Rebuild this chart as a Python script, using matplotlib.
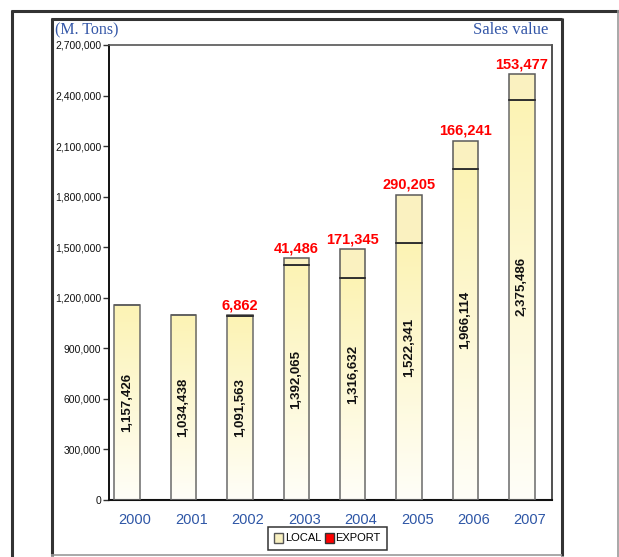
import numpy as np
import matplotlib
matplotlib.use("Agg")
import matplotlib.pyplot as plt
import matplotlib.ticker as ticker
from matplotlib.patches import Patch
from matplotlib.lines import Line2D
from matplotlib.colors import LinearSegmentedColormap

years = ['2000', '2001', '2002', '2003', '2004', '2005', '2006', '2007']
local = [1157426, 1034438, 1091563, 1392065, 1316632, 1522341, 1966114, 2375486]
# the source chart draws the 2001 bar as tall as 2002, not at its label value
local_drawn = [1157426, 1098000, 1091563, 1392065, 1316632, 1522341, 1966114, 2375486]
export = [0, 0, 6862, 41486, 171345, 290205, 166241, 153477]
yticks = [0, 300000, 600000, 900000, 1200000, 1500000, 1800000, 2100000, 2400000, 2700000]

W, H = 619, 557
fig = plt.figure(figsize=(W / 100, H / 100), dpi=100)
fig.patch.set_facecolor('white')

def fx(x):
    return x / W

def fy(y):
    return 1 - y / H

# page frames
frame = dict(transform=fig.transFigure, solid_capstyle='butt')
fig.add_artist(Line2D([fx(11), fx(619)], [fy(11), fy(11)], color='#333333', lw=2.2, **frame))
fig.add_artist(Line2D([fx(12), fx(12)], [fy(10), fy(557)], color='#333333', lw=2.2, **frame))
fig.add_artist(Line2D([fx(617.5), fx(617.5)], [fy(10), fy(557)], color='#999999', lw=1.2, **frame))
fig.add_artist(Line2D([fx(51), fx(562)], [fy(18.5), fy(18.5)], color='#333333', lw=2.2, **frame))
fig.add_artist(Line2D([fx(52), fx(52)], [fy(17.5), fy(556)], color='#333333', lw=2.2, **frame))
fig.add_artist(Line2D([fx(561.5), fx(561.5)], [fy(17.5), fy(556)], color='#333333', lw=2.2, **frame))
fig.add_artist(Line2D([fx(51), fx(562)], [fy(555), fy(555)], color='#9a9a9a', lw=1.2, **frame))

ax = fig.add_axes([fx(109), fy(500), fx(552) - fx(109), fy(45) - fy(500)])
ax.set_xlim(-0.461, 7.39)
ax.set_ylim(0, 2700000)

x = np.arange(len(years))
off = -0.142
width = 0.452

grad = LinearSegmentedColormap.from_list('g', ['#fffef8', '#fcf3b4'])
img = np.linspace(0, 1, 256).reshape(-1, 1)

local_bars = ax.bar(x + off, local_drawn, width, facecolor='none',
                    edgecolor='#6a6a6a', linewidth=1.1, zorder=3)
for b in local_bars:
    im = ax.imshow(img, cmap=grad, origin='lower', aspect='auto', zorder=2,
                   extent=[b.get_x(), b.get_x() + b.get_width(), 0, b.get_height()])
    im.set_clip_path(b)

ax.bar(x + off, export, width, bottom=local_drawn, color='#faf1c0',
       edgecolor='#5a5a5a', linewidth=1.1, zorder=3)
for i in range(len(years)):
    if export[i] > 0:
        ax.plot([x[i] + off - width / 2, x[i] + off + width / 2],
                [local_drawn[i], local_drawn[i]], color='#222222', lw=1.1, zorder=4)

for i in range(len(years)):
    total = local_drawn[i] + export[i]
    ax.text(x[i] + off, total / 2, f'{local[i]:,}', rotation=90, ha='center', va='center',
            fontsize=9.5, fontweight='bold', color='#111111',
            family='Liberation Sans', zorder=5)
    if export[i] > 0:
        ax.annotate(f'{export[i]:,}', (x[i] + off, total), xytext=(0, 2),
                    textcoords='offset points', ha='center', va='bottom',
                    fontsize=10.5, fontweight='bold', color='#ff0000',
                    family='Liberation Sans', zorder=5)

ax.set_yticks(yticks)
ax.yaxis.set_major_formatter(ticker.FuncFormatter(lambda v, p: f'{v:,.0f}'))
ax.set_xticks(x)
ax.set_xticklabels(years)
ax.tick_params(axis='y', length=4, width=1, color='#333333', labelsize=7.5,
               labelcolor='#111111', pad=1.5)
ax.tick_params(axis='x', length=0, labelsize=10.5, labelcolor='#2e56a6', pad=9)
for lab in ax.get_xticklabels() + ax.get_yticklabels():
    lab.set_family('Liberation Sans')

ax.spines['left'].set_linewidth(1.4)
ax.spines['left'].set_color('#111111')
ax.spines['bottom'].set_linewidth(1.5)
ax.spines['bottom'].set_color('#111111')
ax.spines['top'].set_linewidth(1.2)
ax.spines['top'].set_color('#555555')
ax.spines['right'].set_linewidth(1.2)
ax.spines['right'].set_color('#333333')

fig.text(fx(55), fy(30), '(M. Tons)', ha='left', va='center', fontsize=11.5,
         color='#3457a8', family='Liberation Serif')
fig.text(fx(548), fy(30), 'Sales value', ha='right', va='center', fontsize=12,
         color='#3457a8', family='Liberation Serif')

handles = [Patch(facecolor='#f8f0c0', edgecolor='#555555', label='LOCAL'),
           Patch(facecolor='#ff0000', edgecolor='#333333', label='EXPORT')]
leg = fig.legend(handles=handles, loc='center', bbox_to_anchor=(fx(327.5), fy(538)),
                 ncol=2, handlelength=0.8, handleheight=1.0,
                 handletextpad=0.15, columnspacing=0.3, borderpad=0.55,
                 fancybox=False, edgecolor='#333333', framealpha=1,
                 prop={'family': 'Liberation Sans', 'size': 8})
leg.get_frame().set_linewidth(1.1)

fig.savefig('out.png', dpi=100)
